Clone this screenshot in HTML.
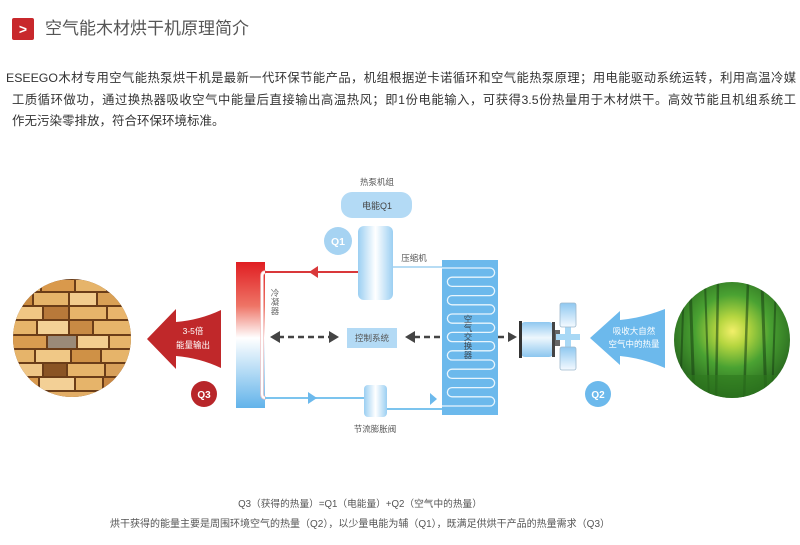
<!DOCTYPE html>
<html><head><meta charset="utf-8">
<style>
html,body{margin:0;padding:0;background:#fff;}
body{width:800px;height:545px;position:relative;overflow:hidden;font-family:"Liberation Sans","Noto Sans CJK SC",sans-serif;}
.t{position:absolute;white-space:nowrap;}
.j{text-align:justify;text-align-last:justify;white-space:normal;overflow:hidden;}
svg{position:absolute;left:0;top:0;}
</style></head><body>
<svg width="800" height="545" viewBox="0 0 800 545" xmlns="http://www.w3.org/2000/svg" font-family="Liberation Sans, Noto Sans CJK SC, sans-serif">
<defs>
<linearGradient id="cond" x1="0" y1="0" x2="0" y2="1">
<stop offset="0" stop-color="#e01e22"/>
<stop offset="0.3" stop-color="#ee7466"/>
<stop offset="0.52" stop-color="#ffffff"/>
<stop offset="0.75" stop-color="#b4dbf5"/>
<stop offset="1" stop-color="#62b3ea"/>
</linearGradient>
<linearGradient id="cyl" x1="0" y1="0" x2="1" y2="0">
<stop offset="0" stop-color="#9bcff2"/>
<stop offset="0.5" stop-color="#ffffff"/>
<stop offset="1" stop-color="#9bcff2"/>
</linearGradient>
<linearGradient id="mot" x1="0" y1="0" x2="0" y2="1">
<stop offset="0" stop-color="#8fc8f0"/>
<stop offset="0.45" stop-color="#eef7fd"/>
<stop offset="1" stop-color="#8cc6ef"/>
</linearGradient>
<linearGradient id="blade" x1="0" y1="0" x2="0" y2="1">
<stop offset="0" stop-color="#8fc8f0"/>
<stop offset="1" stop-color="#f4faff"/>
</linearGradient>
<radialGradient id="forest" cx="0.5" cy="0.42" r="0.6">
<stop offset="0" stop-color="#f2ef6a"/>
<stop offset="0.2" stop-color="#b6d640"/>
<stop offset="0.5" stop-color="#4aa232"/>
<stop offset="1" stop-color="#1d5418"/>
</radialGradient>
<clipPath id="wc"><circle cx="72" cy="338" r="59"/></clipPath>
<clipPath id="fc"><circle cx="732" cy="340" r="58"/></clipPath>
</defs>

<!-- title icon -->
<rect x="12" y="18" width="22" height="22" rx="2" fill="#c8282c"/>
<text x="23" y="34" text-anchor="middle" font-size="14" fill="#fff" font-weight="bold">&gt;</text>

<!-- wood circle -->
<g clip-path="url(#wc)">
<rect x="10" y="276" width="125" height="125" fill="#6b3d18"/>
<g fill="#e6b46a">
<rect x="12" y="280" width="28" height="11"/><rect x="42" y="280" width="32" height="11" fill="#d9994c"/><rect x="76" y="280" width="30" height="11"/><rect x="108" y="280" width="26" height="11" fill="#f0c98a"/>
<rect x="12" y="293" width="20" height="12" fill="#c98a40"/><rect x="34" y="293" width="34" height="12"/><rect x="70" y="293" width="26" height="12" fill="#f2cc8e"/><rect x="98" y="293" width="36" height="12" fill="#d9a055"/>
<rect x="12" y="307" width="30" height="12" fill="#f0c684"/><rect x="44" y="307" width="24" height="12" fill="#b8793a"/><rect x="70" y="307" width="36" height="12"/><rect x="108" y="307" width="26" height="12" fill="#e9b56c"/>
<rect x="12" y="321" width="24" height="13"/><rect x="38" y="321" width="30" height="13" fill="#f4d296"/><rect x="70" y="321" width="22" height="13" fill="#c88a44"/><rect x="94" y="321" width="40" height="13"/>
<rect x="12" y="336" width="34" height="12" fill="#d99c50"/><rect x="48" y="336" width="28" height="12" fill="#9a8a78"/><rect x="78" y="336" width="30" height="12" fill="#f2cd90"/><rect x="110" y="336" width="24" height="12"/>
<rect x="12" y="350" width="22" height="12"/><rect x="36" y="350" width="34" height="12" fill="#f0c886"/><rect x="72" y="350" width="28" height="12" fill="#cf9146"/><rect x="102" y="350" width="32" height="12"/>
<rect x="12" y="364" width="30" height="12" fill="#efc585"/><rect x="44" y="364" width="22" height="12" fill="#8a5424"/><rect x="68" y="364" width="36" height="12"/><rect x="106" y="364" width="28" height="12" fill="#d8a05a"/>
<rect x="12" y="378" width="26" height="12" fill="#d99a4e"/><rect x="40" y="378" width="34" height="12" fill="#f3d096"/><rect x="76" y="378" width="26" height="12"/><rect x="104" y="378" width="30" height="12" fill="#c88742"/>
<rect x="12" y="392" width="122" height="8" fill="#e2ad66"/>
</g>
</g>

<!-- forest circle -->
<g clip-path="url(#fc)">
<rect x="670" y="280" width="125" height="122" fill="url(#forest)"/>
<g stroke="#173f12" stroke-opacity="0.55">
<line x1="690" y1="282" x2="694" y2="400" stroke-width="3"/>
<line x1="705" y1="282" x2="709" y2="400" stroke-width="2"/>
<line x1="718" y1="282" x2="716" y2="400" stroke-width="2.5"/>
<line x1="748" y1="282" x2="744" y2="400" stroke-width="2.5"/>
<line x1="762" y1="282" x2="766" y2="400" stroke-width="3"/>
<line x1="776" y1="282" x2="772" y2="400" stroke-width="2"/>
<line x1="684" y1="282" x2="680" y2="400" stroke-width="2"/>
</g>
<rect x="670" y="375" width="125" height="30" fill="#2f7a1e" opacity="0.6"/>
</g>

<!-- red arrow -->
<path d="M147,339 L176,309 L176,322 Q200,320 221,310 L221,368 Q200,358 176,356 L176,369 Z" fill="#c0282a"/>
<text x="193" y="334" text-anchor="middle" font-size="8.5" fill="#fff">3-5倍</text>
<text x="193" y="348" text-anchor="middle" font-size="8.5" fill="#fff">能量输出</text>
<circle cx="204" cy="394" r="13" fill="#b8262a"/>
<text x="204" y="398" text-anchor="middle" font-size="10" font-weight="bold" fill="#fff">Q3</text>

<!-- blue arrow -->
<path d="M590,338 L620,311 L620,320 Q642,318 665,309 L665,368 Q642,358 620,356 L620,365 Z" fill="#6cb9ec"/>
<text x="634" y="334" text-anchor="middle" font-size="8.5" fill="#fff">吸收大自然</text>
<text x="634" y="347" text-anchor="middle" font-size="8.5" fill="#fff">空气中的热量</text>
<circle cx="598" cy="394" r="13" fill="#6cb9ec"/>
<text x="598" y="398" text-anchor="middle" font-size="10" font-weight="bold" fill="#fff">Q2</text>

<!-- condenser -->
<rect x="236" y="262" width="29" height="146" fill="url(#cond)"/>
<path d="M266,272 Q262,272 262,276 V394 Q262,398 266,398" fill="none" stroke="#f3c4c4" stroke-width="3.5"/>
<path d="M266,272 Q262,272 262,276 V394 Q262,398 266,398" fill="none" stroke="#fff" stroke-width="2"/>
<text font-size="8.5" fill="#666" text-anchor="middle"><tspan x="275" y="296">冷</tspan><tspan x="275" y="305">凝</tspan><tspan x="275" y="314">器</tspan></text>

<!-- pipes -->
<line x1="358" y1="272" x2="265" y2="272" stroke="#d9383a" stroke-width="2"/>
<polygon points="309,272 318,266 318,278" fill="#d9383a"/>
<line x1="265" y1="398" x2="364" y2="398" stroke="#7cc4ee" stroke-width="2"/>
<polygon points="317,398 308,392 308,404" fill="#6cb9ec"/>
<line x1="387" y1="409" x2="444" y2="409" stroke="#7cc4ee" stroke-width="2"/>
<polygon points="437,399 430,393 430,405" fill="#6cb9ec"/>
<line x1="393" y1="267" x2="444" y2="267" stroke="#9fd0f0" stroke-width="1.5"/>

<!-- heat pump unit -->
<text x="377" y="185" text-anchor="middle" font-size="8.5" fill="#555">热泵机组</text>
<rect x="341" y="192" width="71" height="26" rx="11" fill="#b3daf5"/>
<text x="377" y="209" text-anchor="middle" font-size="9" fill="#444">电能Q1</text>
<circle cx="338" cy="241" r="14" fill="#a6d3f2"/>
<text x="338" y="245" text-anchor="middle" font-size="10.5" font-weight="bold" fill="#fff">Q1</text>
<rect x="358" y="226" width="35" height="74" rx="6" fill="url(#cyl)"/>
<text x="414" y="261" text-anchor="middle" font-size="8.5" fill="#555">压缩机</text>

<!-- throttle -->
<rect x="364" y="385" width="23" height="32" rx="4" fill="url(#cyl)"/>
<text x="375" y="432" text-anchor="middle" font-size="8.5" fill="#555">节流膨胀阀</text>

<!-- control -->
<rect x="347" y="328" width="50" height="20" fill="#b3daf5"/>
<text x="372" y="341" text-anchor="middle" font-size="8.5" fill="#555">控制系统</text>
<g stroke="#444" stroke-width="2.5" stroke-dasharray="6,4">
<line x1="278" y1="337" x2="330" y2="337"/>
<line x1="414" y1="337" x2="444" y2="337"/>
<line x1="498" y1="337" x2="509" y2="337"/>
</g>
<g fill="#444">
<polygon points="270,337 280,331 280,343"/>
<polygon points="339,337 329,331 329,343"/>
<polygon points="405,337 415,331 415,343"/>
<polygon points="517,337 508,332 508,342"/>
</g>

<!-- exchanger -->
<rect x="442" y="260" width="56" height="155" fill="#6cb9ec"/>
<path d="M442,268 H490 A4.6,4.6 0 0 1 490,277.2 H452 A4.6,4.6 0 0 0 452,286.4 H490 A4.6,4.6 0 0 1 490,295.6 H452 A4.6,4.6 0 0 0 452,304.8 H490 A4.6,4.6 0 0 1 490,314 H452 A4.6,4.6 0 0 0 452,323.2 H490 A4.6,4.6 0 0 1 490,332.4 H452 A4.6,4.6 0 0 0 452,341.6 H490 A4.6,4.6 0 0 1 490,350.8 H452 A4.6,4.6 0 0 0 452,360 H490 A4.6,4.6 0 0 1 490,369.2 H452 A4.6,4.6 0 0 0 452,378.4 H490 A4.6,4.6 0 0 1 490,387.6 H452 A4.6,4.6 0 0 0 452,396.8 H490 A4.6,4.6 0 0 1 490,406 H442" fill="none" stroke="#e8f5fd" stroke-width="1.3"/>
<text font-size="8.5" fill="#3d4a55" text-anchor="middle"><tspan x="468" y="322">空</tspan><tspan x="468" y="331">气</tspan><tspan x="468" y="340">交</tspan><tspan x="468" y="349">换</tspan><tspan x="468" y="358">器</tspan></text>

<!-- motor & fan -->
<rect x="521" y="322" width="32" height="35" rx="4" fill="url(#mot)"/>
<rect x="519" y="321" width="3" height="37" fill="#333"/>
<rect x="552" y="322" width="3" height="35" fill="#444"/>
<rect x="555" y="330" width="5" height="16" fill="#666"/>
<rect x="556" y="334" width="24" height="6" fill="#a8d8f5"/>
<rect x="565" y="326" width="6" height="22" fill="#a8d8f5"/>
<rect x="560" y="303" width="16" height="24" rx="2" fill="url(#blade)" stroke="#9db8cc" stroke-width="0.8"/>
<rect x="560" y="347" width="16" height="23" rx="2" fill="url(#blade)" stroke="#9db8cc" stroke-width="0.8"/>
</svg>

<div class="t" style="left:45px;top:18px;font-size:17px;line-height:22px;color:#555;">空气能木材烘干机原理简介</div>

<div class="t j" style="left:6px;top:70px;width:790px;height:16px;font-size:12.3px;line-height:16px;color:#333;">ESEEGO木材专用空气能热泵烘干机是最新一代环保节能产品，机组根据逆卡诺循环和空气能热泵原理；用电能驱动系统运转，利用高温冷媒</div>
<div class="t j" style="left:12px;top:92px;width:784px;height:16px;font-size:12.3px;line-height:16px;color:#333;">工质循环做功，通过换热器吸收空气中能量后直接输出高温热风；即1份电能输入，可获得3.5份热量用于木材烘干。高效节能且机组系统工</div>
<div class="t" style="left:12px;top:113px;font-size:12.5px;line-height:16px;color:#333;">作无污染零排放，符合环保环境标准。</div>

<div class="t" style="left:160px;width:400px;text-align:center;top:498px;font-size:9.7px;line-height:14px;color:#555;">Q3（获得的热量）=Q1（电能量）+Q2（空气中的热量）</div>
<div class="t" style="left:60px;width:600px;text-align:center;top:518px;font-size:10px;line-height:14px;color:#555;">烘干获得的能量主要是周围环境空气的热量（Q2），以少量电能为辅（Q1），既满足供烘干产品的热量需求（Q3）</div>
</body></html>
